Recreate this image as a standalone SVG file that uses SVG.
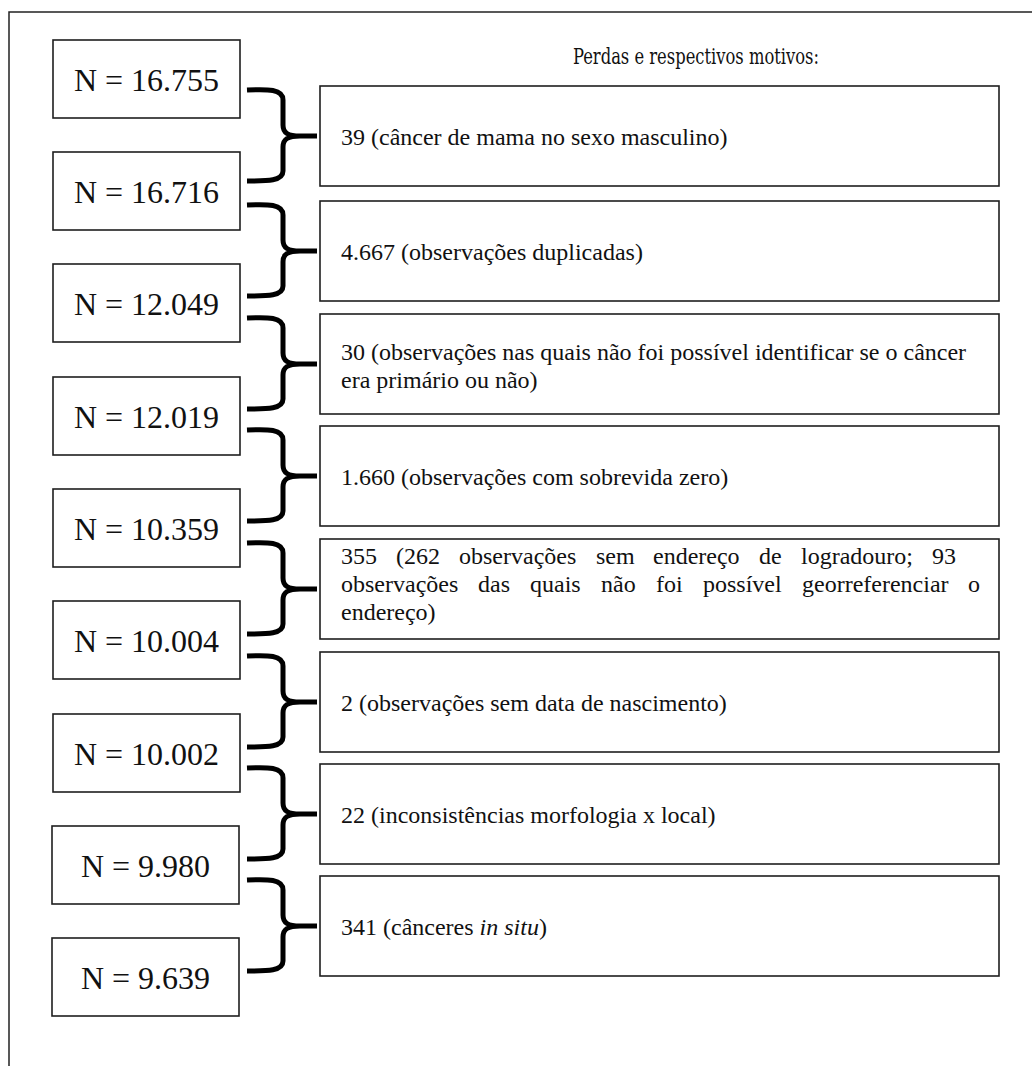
<svg xmlns="http://www.w3.org/2000/svg" width="1032" height="1066" viewBox="0 0 1032 1066">
<style>
.frame{fill:none;stroke:#222;stroke-width:1.5}
.box{fill:#fff;stroke:#1e1e1e;stroke-width:1.6}
.n{font-family:"Liberation Serif","Times New Roman",serif;font-size:32px;fill:#111;text-anchor:middle}
.t{font-family:"Liberation Serif","Times New Roman",serif;font-size:24px;fill:#111}
.title{font-family:"DejaVu Serif Condensed","DejaVu Serif","Liberation Serif",serif;font-size:21.5px;fill:#111}
.brace{fill:none;stroke:#000;stroke-width:5;stroke-linecap:butt;stroke-linejoin:round}
</style>
<defs>
<path id="br" d="M247,0 C268,-1 283,-1 283,10 L283,35 C283,43 288,46 300,46 L317,46 M300,46 C288,46 283,49 283,57 L283,81 C283,91 268,91 247,91"/>
</defs>
<path class="frame" d="M9,1066 L9,12 L1032,12"/>
<text class="title" x="573" y="64" textLength="246" lengthAdjust="spacingAndGlyphs">Perdas e respectivos motivos:</text>

<g id="connectors">
<use href="#br" class="brace" transform="translate(0,90)"/>
<use href="#br" class="brace" transform="translate(0,205)"/>
<use href="#br" class="brace" transform="translate(0,318)"/>
<use href="#br" class="brace" transform="translate(0,430)"/>
<use href="#br" class="brace" transform="translate(0,543)"/>
<use href="#br" class="brace" transform="translate(0,656)"/>
<use href="#br" class="brace" transform="translate(0,768)"/>
<use href="#br" class="brace" transform="translate(0,880)"/>
</g>

<g id="n1"><rect class="box" x="53" y="40" width="187" height="78"/><text class="n" x="146.5" y="91">N = 16.755</text></g>
<g id="n2"><rect class="box" x="53" y="152" width="187" height="78"/><text class="n" x="146.5" y="203">N = 16.716</text></g>
<g id="n3"><rect class="box" x="53" y="264" width="187" height="78"/><text class="n" x="146.5" y="315">N = 12.049</text></g>
<g id="n4"><rect class="box" x="53" y="377" width="187" height="78"/><text class="n" x="146.5" y="428">N = 12.019</text></g>
<g id="n5"><rect class="box" x="53" y="489" width="187" height="78"/><text class="n" x="146.5" y="540">N = 10.359</text></g>
<g id="n6"><rect class="box" x="53" y="601" width="187" height="78"/><text class="n" x="146.5" y="652">N = 10.004</text></g>
<g id="n7"><rect class="box" x="53" y="714" width="187" height="78"/><text class="n" x="146.5" y="765">N = 10.002</text></g>
<g id="n8"><rect class="box" x="52" y="826" width="187" height="78"/><text class="n" x="145.5" y="877">N = 9.980</text></g>
<g id="n9"><rect class="box" x="52" y="938" width="187" height="78"/><text class="n" x="145.5" y="989">N = 9.639</text></g>

<g id="r1"><rect class="box" x="320" y="86" width="679" height="100"/><text class="t" x="341" y="145">39 (câncer de mama no sexo masculino)</text></g>
<g id="r2"><rect class="box" x="320" y="201" width="679" height="100"/><text class="t" x="341" y="260">4.667 (observações duplicadas)</text></g>
<g id="r3"><rect class="box" x="320" y="314" width="679" height="100"/><text class="t" x="341" y="360">30 (observações nas quais não foi possível identificar se o câncer</text><text class="t" x="341" y="388">era primário ou não)</text></g>
<g id="r4"><rect class="box" x="320" y="426" width="679" height="100"/><text class="t" x="341" y="485">1.660 (observações com sobrevida zero)</text></g>
<g id="r5"><rect class="box" x="320" y="539" width="679" height="100"/>
<text class="t" y="564"><tspan x="341">355</tspan><tspan x="396">(262</tspan><tspan x="459">observações</tspan><tspan x="596">sem</tspan><tspan x="653">endereço</tspan><tspan x="759">de</tspan><tspan x="801">logradouro;</tspan><tspan x="932">93</tspan></text>
<text class="t" y="592"><tspan x="341">observações</tspan><tspan x="478">das</tspan><tspan x="530">quais</tspan><tspan x="601">não</tspan><tspan x="656">foi</tspan><tspan x="703">possível</tspan><tspan x="802">georreferenciar</tspan><tspan x="968">o</tspan></text>
<text class="t" x="341" y="620">endereço)</text></g>
<g id="r6"><rect class="box" x="320" y="652" width="679" height="100"/><text class="t" x="341" y="711">2 (observações sem data de nascimento)</text></g>
<g id="r7"><rect class="box" x="320" y="764" width="679" height="100"/><text class="t" x="341" y="823">22 (inconsistências morfologia x local)</text></g>
<g id="r8"><rect class="box" x="320" y="876" width="679" height="100"/><text class="t" x="341" y="935">341 (cânceres <tspan font-style="italic">in situ</tspan>)</text></g>
</svg>
